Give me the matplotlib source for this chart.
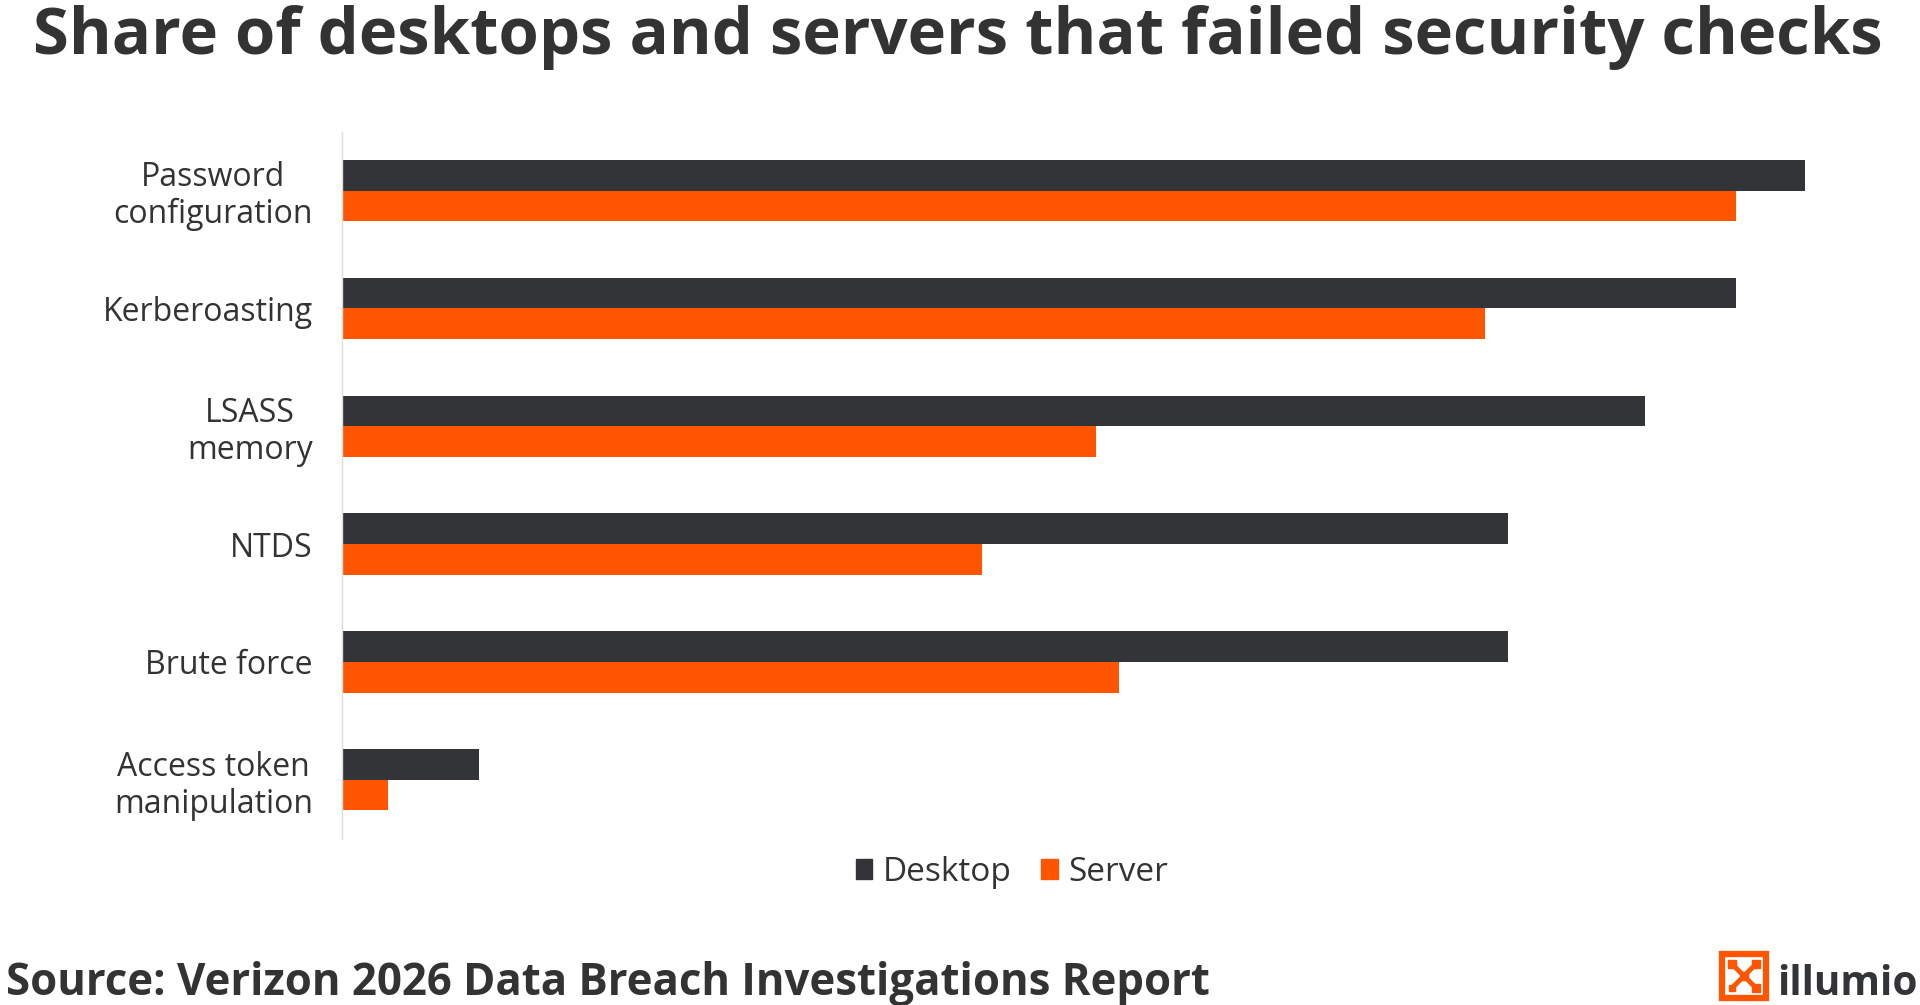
import matplotlib
matplotlib.use("Agg")
import matplotlib.pyplot as plt
from matplotlib.patches import Patch, Rectangle
from matplotlib.lines import Line2D

categories = ["Password\nconfiguration", "Kerberoasting", "LSASS\nmemory",
              "NTDS", "Brute force", "Access token\nmanipulation"]
desktop = [64, 61, 57, 51, 51, 6]
server = [61, 50, 33, 28, 34, 2]
series_names = ["Desktop", "Server"]

DARK = "#323437"
ORANGE = "#FF5500"
TEXT = "#333333"

plt.rcParams["font.family"] = ["Open Sans", "DejaVu Sans"]

fig = plt.figure(figsize=(19.2, 10.05), dpi=100)
ax = fig.add_axes([0.178125, 0.1655, 0.7858, 0.7035])

y = list(range(len(categories)))
h = 0.26
ax.barh([v - h / 2 for v in y], desktop, height=h, color=DARK, label=series_names[0])
ax.barh([v + h / 2 for v in y], server, height=h, color=ORANGE, label=series_names[1])

ax.set_xlim(0, 66)
ax.set_ylim(len(categories) - 0.5, -0.5)
ax.set_yticks(y)
ax.set_yticklabels(categories, fontsize=23, color=TEXT, linespacing=1.15)
for lab in ax.get_yticklabels():
    lab.set_multialignment("center")
ax.tick_params(axis="y", length=0, pad=21)
ax.set_xticks([])
for s in ["top", "right", "bottom"]:
    ax.spines[s].set_visible(False)
ax.spines["left"].set_color("#dcdcdc")
ax.spines["left"].set_linewidth(1)

handles = [Patch(color=DARK), Patch(color=ORANGE)]
fig.legend(handles, series_names, loc="center", bbox_to_anchor=(0.527, 0.132),
           ncol=2, frameon=False, fontsize=24, handlelength=0.5, handleheight=0.55,
           handletextpad=0.3, columnspacing=0.9, labelcolor=TEXT)

title = fig.text(0.017, 0.995, "Share of desktops and servers that failed security checks",
                 fontsize=44, fontweight="bold", color=TEXT, va="top", ha="left")
source = fig.text(0.003, 0.01, "Source: Verizon 2026 Data Breach Investigations Report",
                  fontsize=30, fontweight="bold", color=TEXT, va="baseline", ha="left")

# stretch texts to the widths seen in the reference
fig.canvas.draw()
r = fig.canvas.get_renderer()
for t, target in [(title, 1853), (source, 1206)]:
    w = t.get_window_extent(renderer=r).width
    t.set_fontsize(t.get_fontsize() * target / w)

# illumio logo
W, H = 1920, 1005
def fx(px):
    return px / W
def fy(py):
    return 1 - py / H

fig.patches.append(Rectangle((fx(1722), fy(998)), fx(44), 44 / H, transform=fig.transFigure,
                             fill=False, edgecolor=ORANGE, linewidth=4.5))
cx, cy = 1744, 976
for dx, dy in [(-1, -1), (1, -1), (-1, 1), (1, 1)]:
    fig.lines.append(Line2D([fx(cx), fx(cx + dx * 11)], [fy(cy), fy(cy + dy * 11)],
                            transform=fig.transFigure, color=ORANGE, linewidth=3.5))
for dx, dy, s in [(-12, -12, 8), (12, -12, 8), (-12, 12, 6), (12, 12, 8), (0, 0, 8)]:
    fig.patches.append(Rectangle((fx(cx + dx - s / 2), fy(cy + dy + s / 2)), s / W, s / H,
                                 transform=fig.transFigure, color=ORANGE))
logo = fig.text(fx(1777), fy(995), "illumio", fontsize=31, fontweight="bold",
                color=DARK, va="baseline", ha="left")
fig.canvas.draw()
w = logo.get_window_extent(renderer=r).width
logo.set_fontsize(logo.get_fontsize() * 141 / w)

fig.savefig("out.png", dpi=100, facecolor="white")
